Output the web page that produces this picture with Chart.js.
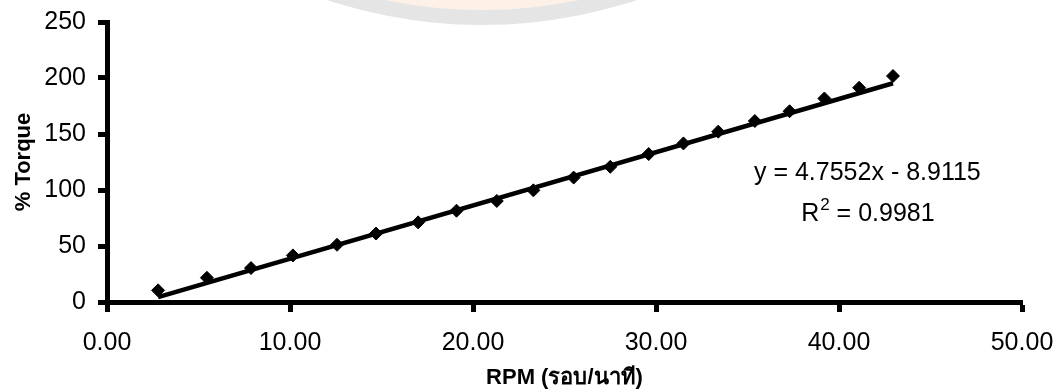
<!DOCTYPE html>
<html lang="th">
<head>
<meta charset="UTF-8">
<title>% Torque vs RPM</title>
<script src="https://cdn.jsdelivr.net/npm/chart.js"></script>
<style>
    html, body { margin: 0; padding: 0; background: #fff; }
    .wrap { width: 1063px; height: 392px; }
</style>
</head>
<body>
<div class="wrap">
    <canvas id="torqueChart" width="1063" height="392"></canvas>
</div>
<script>
// measured points: motor speed vs percent torque
const rpm    = [2.79, 5.46, 7.87, 10.16, 12.57, 14.70, 17.00, 19.10, 21.30, 23.30,
                25.50, 27.50, 29.60, 31.50, 33.40, 35.40, 37.30, 39.20, 41.10, 42.95];
const torque = [10.4, 21.6, 30.3, 41.6, 51.1, 61.1, 71.1, 81.5, 90.2, 99.7,
                111.1, 120.7, 132.1, 141.6, 152.1, 161.6, 170.3, 181.7, 191.3, 201.8];

// linear trend line as printed on the chart
const slope = 4.7552;
const intercept = -8.9115;
const rSquared = 0.9981;

const xTicks = [0, 10, 20, 30, 40, 50];
const yTicks = [0, 50, 100, 150, 200, 250];

const FONT = "'Liberation Sans', Arial, 'DejaVu Sans', sans-serif";

const points = rpm.map((x, i) => ({ x: x, y: torque[i] }));
const xFirst = rpm[0], xLast = rpm[rpm.length - 1];
const trend = [
    { x: xFirst, y: slope * xFirst + intercept },
    { x: xLast,  y: slope * xLast + intercept }
];

// faint circular logo in the page background
const backdrop = {
    id: 'backdrop',
    beforeDraw(chart) {
        const ctx = chart.ctx;
        ctx.save();
        ctx.beginPath();
        ctx.arc(482, -468, 493, 0, Math.PI * 2);
        ctx.fillStyle = '#e5e5e5';
        ctx.fill();
        ctx.beginPath();
        ctx.arc(482, -468, 478, 0, Math.PI * 2);
        ctx.fillStyle = '#fdf1e7';
        ctx.fill();
        ctx.restore();
    }
};

// regression equation and R² label
const equation = {
    id: 'equation',
    afterDatasetsDraw(chart) {
        const ctx = chart.ctx;
        const xs = chart.scales.x, ys = chart.scales.y;
        const cx = xs.getPixelForValue(41.55);
        ctx.save();
        ctx.fillStyle = '#000';
        ctx.textBaseline = 'alphabetic';
        ctx.font = '25px ' + FONT;
        ctx.textAlign = 'center';
        const sign = intercept < 0 ? ' - ' : ' + ';
        ctx.fillText('y = ' + slope.toFixed(4) + 'x' + sign + Math.abs(intercept).toFixed(4),
                     cx, ys.getPixelForValue(108.5));

        // R with superscript 2
        const yR = ys.getPixelForValue(72.5);
        const big = '25px ' + FONT, small = '17px ' + FONT;
        ctx.font = big;
        const wR = ctx.measureText('R').width;
        const rest = ' = ' + rSquared.toFixed(4);
        const wRest = ctx.measureText(rest).width;
        ctx.font = small;
        const w2 = ctx.measureText('2').width;
        let x = cx - (wR + w2 + wRest) / 2;
        ctx.textAlign = 'left';
        ctx.font = big;
        ctx.fillText('R', x, yR);
        x += wR + 1;
        ctx.font = small;
        ctx.fillText('2', x, yR - 11);
        x += w2;
        ctx.font = big;
        ctx.fillText(rest, x, yR);
        ctx.restore();
    }
};

new Chart(document.getElementById('torqueChart'), {
    type: 'scatter',
    data: {
        datasets: [
            {
                label: '% Torque',
                data: points,
                pointStyle: 'rectRot',
                pointRadius: 6.5,
                pointBackgroundColor: '#000',
                pointBorderColor: '#000',
                pointBorderWidth: 1,
                showLine: false,
                order: 2
            },
            {
                label: 'Linear',
                data: trend,
                showLine: true,
                borderColor: '#000',
                borderWidth: 4.5,
                pointRadius: 0,
                order: 1
            }
        ]
    },
    options: {
        responsive: false,
        animation: false,
        devicePixelRatio: 1,
        layout: { padding: { top: 22, right: 41, left: 0, bottom: 0 } },
        plugins: {
            legend: { display: false },
            tooltip: { enabled: false }
        },
        scales: {
            x: {
                type: 'linear',
                min: 0,
                max: 50,
                afterBuildTicks(scale) { scale.ticks = xTicks.map(v => ({ value: v })); },
                afterFit(scale) {
                    scale.height = 90;
                    scale.paddingLeft = 0;
                    scale.paddingRight = 0;
                },
                border: { display: true, color: '#000', width: 5 },
                grid: { drawOnChartArea: false, drawTicks: true, tickLength: 10, tickWidth: 5, tickColor: '#000' },
                ticks: {
                    color: '#000',
                    padding: 16,
                    font: { family: FONT, size: 25 },
                    callback: v => v.toFixed(2)
                },
                title: {
                    display: true,
                    text: 'RPM (รอบ/นาที)',
                    color: '#000',
                    padding: { top: 2, bottom: 1 },
                    font: { family: FONT, size: 22, weight: 'bold' }
                }
            },
            y: {
                type: 'linear',
                min: 0,
                max: 250,
                afterBuildTicks(scale) { scale.ticks = yTicks.map(v => ({ value: v })); },
                afterFit(scale) {
                    scale.width = 107;
                    scale.paddingTop = 0;
                    scale.paddingBottom = 0;
                },
                border: { display: true, color: '#000', width: 5 },
                grid: { drawOnChartArea: false, drawTicks: true, tickLength: 9, tickWidth: 5, tickColor: '#000' },
                ticks: {
                    color: '#000',
                    padding: 12,
                    font: { family: FONT, size: 25 }
                },
                title: {
                    display: true,
                    text: '% Torque',
                    color: '#000',
                    padding: { top: 11, bottom: 0 },
                    font: { family: FONT, size: 22, weight: 'bold' }
                }
            }
        }
    },
    plugins: [backdrop, equation]
});
</script>
</body>
</html>
